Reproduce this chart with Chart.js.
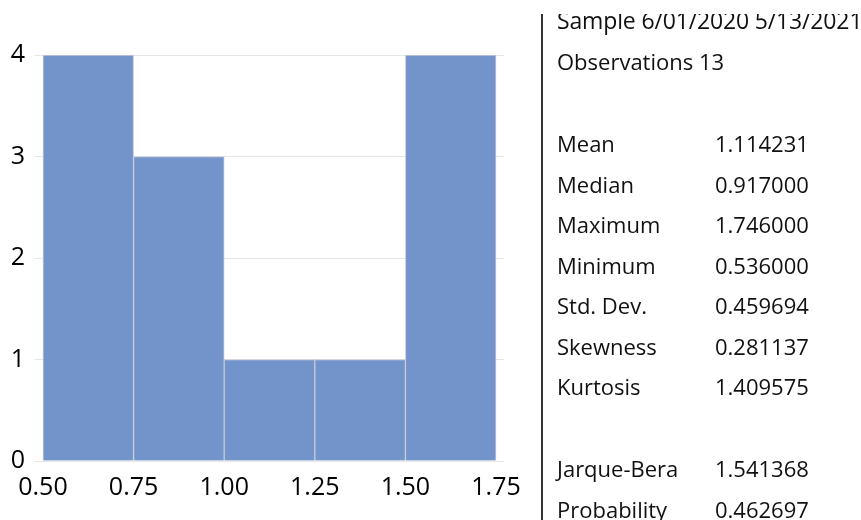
<!DOCTYPE html>
<html>
<head>
<meta charset="utf-8">
<script src="https://cdn.jsdelivr.net/npm/chart.js@4/dist/chart.umd.min.js"></script>
<style>
  body { margin: 0; background: #fff; }
  #wrap { position: relative; width: 861px; height: 520px; overflow: hidden; }
  #grafico { position: absolute; left: 0; top: 0; }
  #linha { position: absolute; left: 541px; top: 14px; width: 1.5px; height: 510px; background: #333; }
  #topo { position: absolute; left: 545px; top: 14px; width: 316px; height: 30px; overflow: hidden; }
  .stat { position: absolute; font-family: "Open Sans", sans-serif; font-size: 22px; color: #111; white-space: nowrap; line-height: 1; }
</style>
</head>
<body>
<div id="wrap">
  <canvas id="grafico" width="861" height="520"></canvas>
  <div id="linha"></div>
  <div id="topo"></div>
  <div id="stats"></div>
</div>
<script>
// histograma
const binCentros = [0.625, 0.875, 1.125, 1.375, 1.625];
const contagens = [4, 3, 1, 1, 4];
const xTicks = [0.50, 0.75, 1.00, 1.25, 1.50, 1.75];
const yTicks = [0, 1, 2, 3, 4];

// estatisticas
const cabecalho = ['Sample 6/01/2020 5/13/2021', 'Observations 13'];
const nomesStats = ['Mean', 'Median', 'Maximum', 'Minimum', 'Std. Dev.', 'Skewness', 'Kurtosis'];
const valoresStats = ['1.114231', '0.917000', '1.746000', '0.536000', '0.459694', '0.281137', '1.409575'];
const nomesTeste = ['Jarque-Bera', 'Probability'];
const valoresTeste = ['1.541368', '0.462697'];

const statsDiv = document.getElementById('stats');
function addTexto(pai, txt, x, yCentro) {
  const d = document.createElement('div');
  d.className = 'stat';
  d.textContent = txt;
  d.style.left = x + 'px';
  d.style.top = (yCentro - 11) + 'px';
  pai.appendChild(d);
  return d;
}
// primeira linha fica cortada no topo, como na imagem
const s = addTexto(document.getElementById('topo'), cabecalho[0], 12, 0);
s.style.fontSize = '23px';
s.style.letterSpacing = '-0.15px';
s.style.top = '-5px';
addTexto(statsDiv, cabecalho[1], 557, 61);
nomesStats.forEach((n, i) => {
  addTexto(statsDiv, n, 557, 143 + i * 40.5);
  addTexto(statsDiv, valoresStats[i], 715, 143 + i * 40.5);
});
nomesTeste.forEach((n, i) => {
  addTexto(statsDiv, n, 557, 468 + i * 40.5);
  addTexto(statsDiv, valoresTeste[i], 715, 468 + i * 40.5);
});

const ctx = document.getElementById('grafico').getContext('2d');
new Chart(ctx, {
  type: 'bar',
  data: {
    datasets: [{
      data: binCentros.map((c, i) => ({ x: c, y: contagens[i] })),
      backgroundColor: '#7394cb',
      borderColor: '#c4cad6',
      borderWidth: 1,
      barPercentage: 1,
      categoryPercentage: 1
    }]
  },
  options: {
    responsive: false,
    animation: false,
    layout: { padding: { left: 0, right: 357, top: 55, bottom: 0 } },
    plugins: { legend: { display: false }, tooltip: { enabled: false } },
    scales: {
      x: {
        type: 'linear',
        offset: false,
        min: 0.478,
        max: 1.772,
        afterBuildTicks: s => { s.ticks = xTicks.map(v => ({ value: v })); },
        afterFit: s => { s.height = 59; },
        grid: { display: false },
        border: { display: false },
        ticks: {
          color: '#000',
          font: { family: 'Open Sans', size: 25 },
          padding: 4,
          maxRotation: 0,
          callback: v => v.toFixed(2)
        }
      },
      y: {
        min: 0,
        max: 4,
        afterBuildTicks: s => { s.ticks = yTicks.map(v => ({ value: v })); },
        afterFit: s => { s.width = 35; },
        grid: { color: '#e6e6e6', lineWidth: 1, drawTicks: false },
        border: { display: false },
        ticks: {
          color: '#000',
          font: { family: 'Open Sans', size: 25 },
          padding: 10
        }
      }
    }
  }
});
</script>
</body>
</html>
